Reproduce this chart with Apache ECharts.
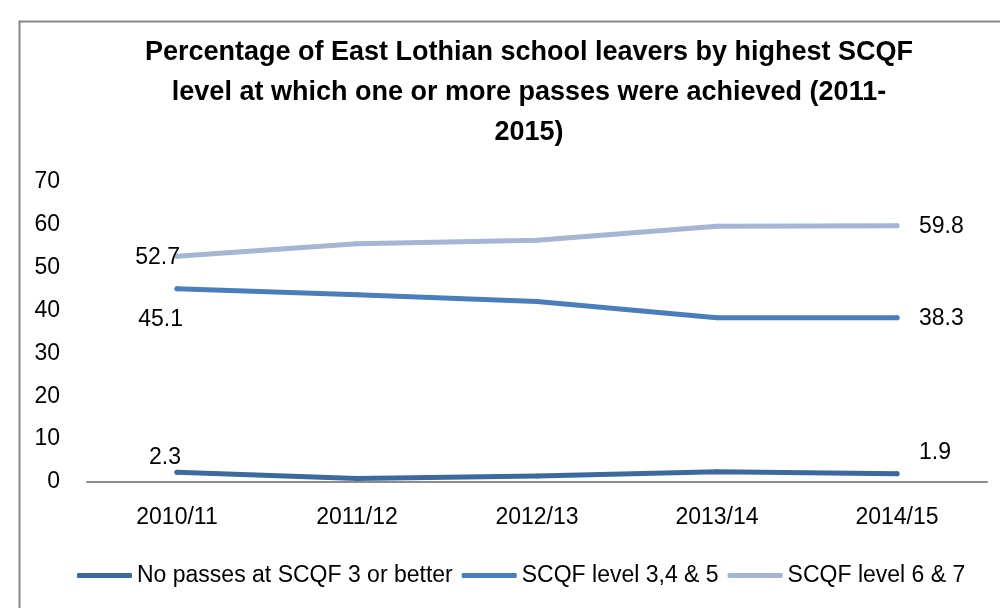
<!DOCTYPE html>
<html>
<head>
<meta charset="utf-8">
<script src="https://cdn.jsdelivr.net/npm/echarts@6/dist/echarts.min.js"></script>
<style>
html,body{margin:0;padding:0;background:#fff;}
#chart{width:1000px;height:608px;}
</style>
</head>
<body>
<div id="chart"></div>
<script>
const categories = ['2010/11', '2011/12', '2012/13', '2013/14', '2014/15'];
const noPasses = [2.3, 0.8, 1.4, 2.4, 1.9];
const level345 = [45.1, 43.7, 42.1, 38.3, 38.3];
const level67 = [52.7, 55.6, 56.4, 59.7, 59.8];
const seriesNames = ['No passes at SCQF 3 or better', 'SCQF level 3,4 & 5', 'SCQF level 6 & 7'];
const colors = ['#3D6A9E', '#4A7EBB', '#A4B6D4'];
const yTicks = [0, 10, 20, 30, 40, 50, 60, 70];

const FONT = '"Liberation Sans", Arial, sans-serif';

const labelCfg = [
  { first: [4, -14], last: [22, -21] },
  { first: [6, 31], last: [22, 1] },
  { first: [3, 2], last: [22, 1] }
];

function buildData(values, idx) {
  return values.map((v, i) => {
    const d = { value: v };
    if (i === 0) {
      d.label = { show: true, position: 'inside', align: 'right', verticalAlign: 'middle', offset: labelCfg[idx].first };
    } else if (i === values.length - 1) {
      d.label = { show: true, position: 'inside', align: 'left', verticalAlign: 'middle', offset: labelCfg[idx].last };
    }
    return d;
  });
}

const allValues = [noPasses, level345, level67];

const chart = echarts.init(document.getElementById('chart'), null, { renderer: 'canvas' });
chart.setOption({
  animation: false,
  backgroundColor: '#fff',
  title: {
    text: 'Percentage of East Lothian school leavers by highest SCQF\nlevel at which one or more passes were achieved (2011-\n2015)',
    left: 524,
    top: 28,
    textAlign: 'center',
    textStyle: { fontFamily: FONT, fontWeight: 'bold', fontSize: 27, lineHeight: 40, color: '#000', align: 'center' }
  },
  graphic: [{
    type: 'rect',
    left: 17, top: 19,
    shape: { width: 1000, height: 700 },
    style: { fill: 'none', stroke: '#878787', lineWidth: 2 },
    silent: true
  }],
  legend: {
    left: 72,
    top: 559,
    width: 960,
    itemWidth: 55,
    itemHeight: 5,
    itemGap: 9,
    icon: 'roundRect',
    textStyle: { fontFamily: FONT, fontSize: 23, color: '#000' },
    data: seriesNames
  },
  grid: { left: 87, right: 13, top: 182, bottom: 126, containLabel: false },
  xAxis: {
    type: 'category',
    data: categories,
    boundaryGap: true,
    axisLine: { lineStyle: { color: '#8C8C8C', width: 2 } },
    axisTick: { show: false },
    axisLabel: { fontFamily: FONT, fontSize: 23, color: '#000', margin: 24 }
  },
  yAxis: {
    type: 'value',
    min: 0, max: 70, interval: 10,
    axisLine: { show: false },
    axisTick: { show: false },
    splitLine: { show: false },
    axisLabel: { fontFamily: FONT, fontSize: 23, color: '#000', margin: 27,
      formatter: v => yTicks.includes(v) ? String(v) : '' }
  },
  series: allValues.map((vals, idx) => ({
    name: seriesNames[idx],
    type: 'line',
    data: buildData(vals, idx),
    symbol: 'circle',
    symbolSize: 5,
    showSymbol: true,
    color: colors[idx],
    itemStyle: { color: colors[idx] },
    lineStyle: { color: colors[idx], width: 5, cap: 'round', join: 'round' },
    label: { show: false, fontFamily: FONT, fontSize: 23, color: '#000' },
    emphasis: { disabled: true },
    z: 3 - idx
  }))
});
</script>
</body>
</html>
